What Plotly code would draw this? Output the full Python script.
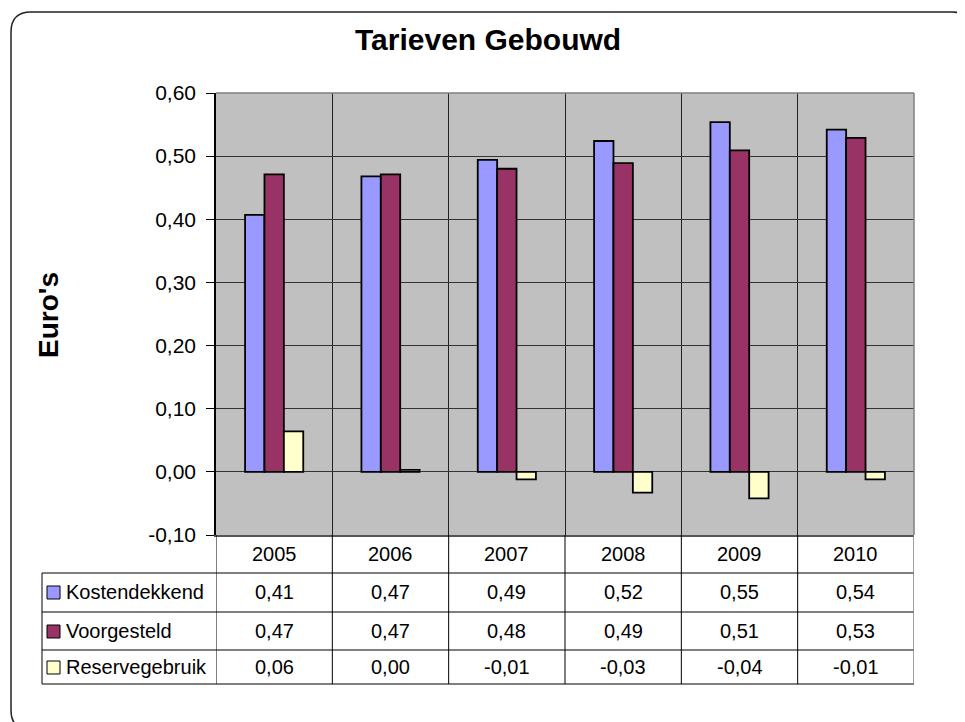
import plotly.graph_objects as go

# ---- data ----
years = ["2005", "2006", "2007", "2008", "2009", "2010"]
kostendekkend = [0.407, 0.468, 0.494, 0.524, 0.554, 0.542]
voorgesteld = [0.471, 0.471, 0.480, 0.489, 0.509, 0.529]
reservegebruik = [0.064, 0.003, -0.012, -0.033, -0.042, -0.012]
series_names = ["Kostendekkend", "Voorgesteld", "Reservegebruik"]
series_values = [kostendekkend, voorgesteld, reservegebruik]
series_colors = ["#9999FF", "#993366", "#FFFFCC"]
y_ticks = [-0.1, 0.0, 0.1, 0.2, 0.3, 0.4, 0.5, 0.6]
title_text = "Tarieven Gebouwd"
y_title = "Euro's"

W, H = 965, 722
OFF = 8  # page body margin
FONT = "Liberation Sans, Arial, sans-serif"


def px(x):
    return (x - OFF) / W


def py(y):
    return 1 - (y - OFF) / H


def fmt(v):
    return f"{v:.2f}".replace(".", ",")


fig = go.Figure()
for name, vals, col in zip(series_names, series_values, series_colors):
    fig.add_trace(go.Bar(
        x=years, y=vals, name=name,
        marker=dict(color=col, line=dict(color="black", width=1.8)),
        showlegend=False,
    ))

plot_l, plot_r, plot_t, plot_b = 216, 914, 93, 535

shapes = []
annotations = []

# outer rounded border
x0, y0, x1, y1, r = 11, 12, 972, 730, 20
path = (
    f"M {px(x0 + r)},{py(y0)} L {px(x1 - r)},{py(y0)} "
    f"Q {px(x1)},{py(y0)} {px(x1)},{py(y0 + r)} "
    f"L {px(x1)},{py(y1 - r)} Q {px(x1)},{py(y1)} {px(x1 - r)},{py(y1)} "
    f"L {px(x0 + r)},{py(y1)} Q {px(x0)},{py(y1)} {px(x0)},{py(y1 - r)} "
    f"L {px(x0)},{py(y0 + r)} Q {px(x0)},{py(y0)} {px(x0 + r)},{py(y0)} Z"
)
shapes.append(dict(type="path", xref="paper", yref="paper", path=path,
                   line=dict(color="#222222", width=1.5), layer="below"))

# table geometry
row_lines = [573, 612, 650, 684]
row_centers = [592, 631, 667]
header_center = 554
table_left = 42

for yl in row_lines:
    shapes.append(dict(type="line", xref="paper", yref="paper",
                       x0=px(table_left), x1=px(plot_r), y0=py(yl), y1=py(yl),
                       line=dict(color="black", width=1)))
shapes.append(dict(type="line", xref="paper", yref="paper",
                   x0=px(table_left), x1=px(table_left), y0=py(row_lines[0]), y1=py(row_lines[-1]),
                   line=dict(color="black", width=1)))
for i in range(len(years) + 1):
    col = "#808080" if i == len(years) else "black"
    wid = 1.5 if i == len(years) else 1
    shapes.append(dict(type="line", xref="x", yref="paper",
                       x0=i - 0.5, x1=i - 0.5, y0=py(plot_b), y1=py(row_lines[-1]),
                       line=dict(color=col, width=wid)))
# plot area right & top border (grey)
shapes.append(dict(type="line", xref="paper", yref="paper",
                   x0=px(plot_r), x1=px(plot_r), y0=py(plot_t), y1=py(plot_b),
                   line=dict(color="#808080", width=1.5)))
shapes.append(dict(type="line", xref="paper", yref="paper",
                   x0=px(plot_l), x1=px(plot_r), y0=py(plot_t), y1=py(plot_t),
                   line=dict(color="#808080", width=1.5)))

TXT = dict(family=FONT, size=20, color="black")

# header years
for i, yr in enumerate(years):
    annotations.append(dict(x=i, y=py(header_center), xref="x", yref="paper",
                            text=yr, showarrow=False, xanchor="center", yanchor="middle",
                            font=TXT))
# rows
for name, vals, col, rc in zip(series_names, series_values, series_colors, row_centers):
    shapes.append(dict(type="rect", xref="paper", yref="paper",
                       x0=px(47), x1=px(60), y0=py(rc + 7), y1=py(rc - 6),
                       fillcolor=col, line=dict(color="black", width=1)))
    annotations.append(dict(x=px(64), y=py(rc), xref="paper", yref="paper",
                            text=name, showarrow=False, xanchor="left", yanchor="middle",
                            font=TXT))
    for i, v in enumerate(vals):
        annotations.append(dict(x=i, y=py(rc), xref="x", yref="paper",
                                text=fmt(v), showarrow=False,
                                xanchor="center", yanchor="middle", font=TXT))

# title and y title
annotations.append(dict(x=px(488), y=py(39), xref="paper", yref="paper",
                        text=f"<b>{title_text}</b>", showarrow=False,
                        xanchor="center", yanchor="middle",
                        font=dict(family=FONT, size=30, color="black")))
annotations.append(dict(x=px(48), y=py(315), xref="paper", yref="paper",
                        text=f"<b>{y_title}</b>", showarrow=False, textangle=-90,
                        xanchor="center", yanchor="middle",
                        font=dict(family=FONT, size=28, color="black")))

fig.update_layout(
    width=W, height=H,
    margin=dict(l=0, r=0, t=0, b=0, pad=0, autoexpand=False),
    paper_bgcolor="white",
    plot_bgcolor="#C0C0C0",
    barmode="group", bargap=0.5, bargroupgap=0,
    separators=",.",
    shapes=shapes,
    annotations=annotations,
    xaxis=dict(domain=[px(plot_l), px(plot_r)], type="category", automargin=False,
               showticklabels=False, ticks="", tickson="boundaries",
               showgrid=True, gridcolor="#222222", gridwidth=1,
               showline=True, linecolor="#555555", linewidth=1.5,
               zeroline=False, range=[-0.5, len(years) - 0.5]),
    yaxis=dict(domain=[py(plot_b), py(plot_t)], range=[-0.1, 0.6], automargin=False,
               tickvals=y_ticks, ticktext=[fmt(v) for v in y_ticks],
               ticks="outside", ticklen=8, tickcolor="black", tickwidth=1,
               ticklabelstandoff=6,
               showgrid=True, gridcolor="#333333", gridwidth=1,
               zeroline=True, zerolinecolor="#333333", zerolinewidth=1,
               showline=True, linecolor="black", linewidth=1.5,
               tickfont=dict(family=FONT, size=21, color="black")),
    font=dict(family=FONT),
)

fig.write_html("out.html")
